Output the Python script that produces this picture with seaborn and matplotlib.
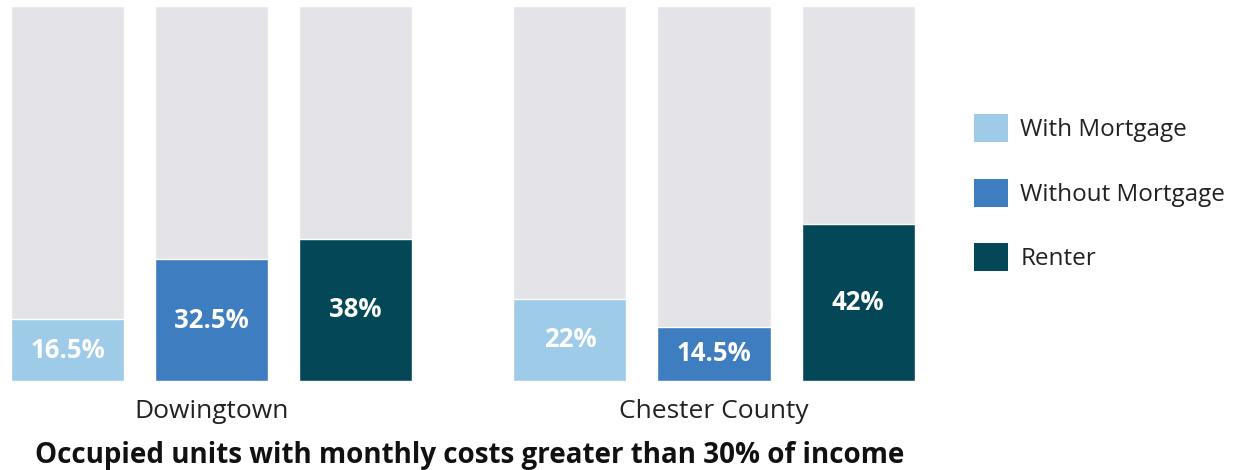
import matplotlib
matplotlib.use("Agg")

import matplotlib.pyplot as plt
import seaborn as sns
import pandas as pd
from matplotlib.patches import Patch

# data
regions = ["Dowingtown", "Chester County"]
tenure = ["With Mortgage", "Without Mortgage", "Renter"]
pct_dowingtown = [16.5, 32.5, 38]
pct_chester = [22, 14.5, 42]
full_scale = 100  # grey background bar = 100%

colors = ["#9dcbe8", "#3e7dc0", "#044857"]
grey = "#e4e4e8"

df = pd.DataFrame({
    "region": [regions[0]] * 3 + [regions[1]] * 3,
    "tenure": tenure * 2,
    "pct": pct_dowingtown + pct_chester,
})
df["full"] = full_scale

sns.set_style("white")
plt.rcParams["font.family"] = ["Open Sans", "DejaVu Sans"]

fig = plt.figure(figsize=(12.57, 4.70), dpi=100)
W, H = 1257, 470
# axes placed so that x=0 / x=1 fall on the group centres
px_per_unit = 502.5
x0_px = 211.5
left_px, right_px = 0, 940
ax = fig.add_axes([left_px / W, 1 - 381 / H, (right_px - left_px) / W, (381 - 6) / H])

# grey background bars
sns.barplot(data=df, x="region", y="full", hue="tenure", hue_order=tenure,
            palette=[grey] * 3, saturation=1, width=0.86, gap=0.215,
            errorbar=None, legend=False, ax=ax)
# coloured value bars
sns.barplot(data=df, x="region", y="pct", hue="tenure", hue_order=tenure,
            palette=colors, saturation=1, width=0.86, gap=0.215,
            errorbar=None, legend=False, ax=ax)

for cont in ax.containers[3:]:
    ax.bar_label(cont, labels=[f"{v:g}%" for v in cont.datavalues],
                 label_type="center", color="white", fontsize=18.5,
                 fontweight="bold")

ax.set_xlim((left_px - x0_px) / px_per_unit, (right_px - x0_px) / px_per_unit)
ax.set_ylim(0, full_scale)
ax.set_yticks([])
ax.set_xlabel("")
ax.set_ylabel("")
ax.tick_params(axis="x", length=0, pad=13, labelsize=19, labelcolor="#222222")
for lbl in ax.get_xticklabels():
    lbl.set_x(lbl.get_position()[0])
sns.despine(ax=ax, left=True, bottom=True)

handles = [Patch(facecolor=c, edgecolor="none") for c in colors]
fig.legend(handles, tenure, loc="upper left",
           bbox_to_anchor=(974 / W, 1 - 114 / H), frameon=False,
           fontsize=17.5, handlelength=1.4, handleheight=1.4,
           labelspacing=1.5, handletextpad=0.5, borderpad=0,
           borderaxespad=0, labelcolor="#222222")

fig.text(470 / W, 1 - 455 / H,
         "Occupied units with monthly costs greater than 30% of income",
         ha="center", va="center", fontsize=20, fontweight="bold",
         color="#111111")

fig.savefig("out.png", dpi=100)
plt.close(fig)
